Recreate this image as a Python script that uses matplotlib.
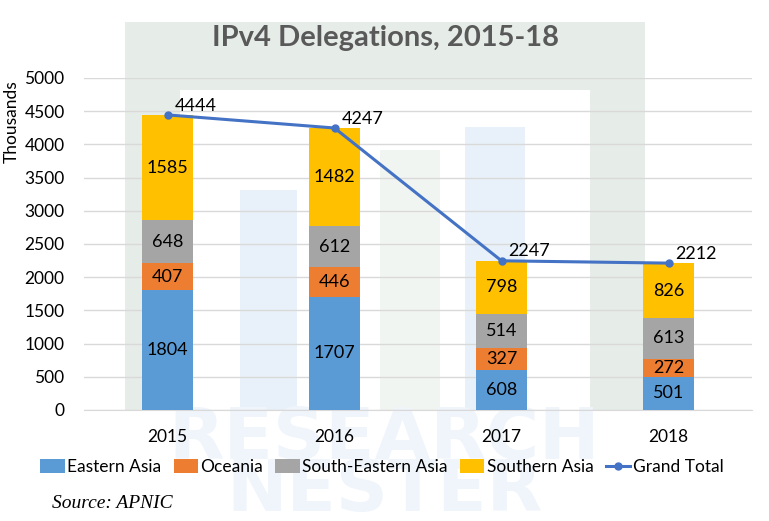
import matplotlib.pyplot as plt
from matplotlib.patches import Rectangle
import numpy as np

# data (thousands)
years = ["2015", "2016", "2017", "2018"]
eastern_asia = [1804, 1707, 608, 501]
oceania = [407, 446, 327, 272]
se_asia = [648, 612, 514, 613]
southern_asia = [1585, 1482, 798, 826]
grand_total = [4444, 4247, 2247, 2212]

series = [
    ("Eastern Asia", eastern_asia, "#5B9BD5"),
    ("Oceania", oceania, "#ED7D31"),
    ("South-Eastern Asia", se_asia, "#A5A5A5"),
    ("Southern Asia", southern_asia, "#FFC000"),
]

plt.rcParams['font.family'] = ['Lato', 'DejaVu Sans']

W, H = 769, 521
fig = plt.figure(figsize=(W / 100, H / 100), dpi=100)


def fr(x0, y0, x1, y1, color):
    # rectangle given in pixel coords (top-left origin)
    fig.patches.append(Rectangle((x0 / W, 1 - y1 / H), (x1 - x0) / W, (y1 - y0) / H,
                                 transform=fig.transFigure, color=color, zorder=-5, lw=0))


# watermark behind the chart
wm_green = "#e6ece7"
wm_blue = "#e8f1f9"
fr(125, 22, 645, 90, wm_green)
fr(125, 90, 180, 410, wm_green)
fr(590, 90, 645, 410, wm_green)
fr(465, 127, 525, 410, wm_blue)
fr(240, 190, 297, 410, wm_blue)
fr(380, 150, 440, 410, "#f1f5f1")
fig.text(0.5, 1 - 440 / H, "RESEARCH", ha="center", va="center", fontsize=52,
         color="#eff5fb", fontweight="bold", family="DejaVu Sans", zorder=-4)
fig.text(0.5, 1 - 492 / H, "NESTER", ha="center", va="center", fontsize=52,
         color="#eff5fb", fontweight="bold", family="DejaVu Sans", zorder=-4)

ax = fig.add_axes([84 / W, 1 - 410 / H, (752 - 84) / W, 332 / H])
ax.set_facecolor("none")
ax.set_zorder(1)

x = np.arange(len(years))
bw = 0.31
bottom = np.zeros(len(years))
handles = []
for name, vals, col in series:
    bars = ax.bar(x, vals, bw, bottom=bottom, color=col, label=name, zorder=3)
    handles.append(bars)
    for xi, b, v in zip(x, bottom, vals):
        ax.text(xi, b + v / 2, str(v), ha="center", va="center", fontsize=13, color="black", zorder=5)
    bottom = bottom + np.array(vals)

line, = ax.plot(x, grand_total, color="#4472C4", lw=2.2, marker="o", ms=5, label="Grand Total", zorder=4)
handles.append(line)
for xi, v in zip(x, grand_total):
    ax.annotate(str(v), (xi, v), xytext=(5, 1), textcoords="offset points",
                fontsize=13, ha="left", va="bottom", zorder=5)

ax.set_xlim(-0.5, 3.5)
ax.set_ylim(0, 5000)
ax.set_yticks(range(0, 5001, 500))
ax.set_xticks(x)
ax.set_xticklabels(years)
ax.tick_params(axis="both", length=0, labelsize=12.5, colors="black")
ax.tick_params(axis="x", pad=14)
ax.tick_params(axis="y", pad=14)
ax.grid(axis="y", color="#d9d9d9", lw=1, zorder=0)
for s in ["top", "right", "left"]:
    ax.spines[s].set_visible(False)
ax.spines["bottom"].set_color("#d9d9d9")

fig.text(12 / W, 1 - 122 / H, "Thousands", rotation=90, ha="center", va="center", fontsize=12.5)
fig.text(385 / W, 1 - 38 / H, "IPv4 Delegations, 2015-18", ha="center", va="center",
         fontsize=21, fontweight="bold", color="#595959")

fig.legend(handles, [h.get_label() for h in handles], loc="center",
           bbox_to_anchor=(382 / W, 1 - 467 / H), ncol=5,
           frameon=False, fontsize=12.5, handlelength=1.4, handleheight=0.8,
           handletextpad=0.15, columnspacing=0.7, borderpad=0)

fig.text(52 / W, 1 - 503 / H, "Source: APNIC", ha="left", va="center", fontsize=14,
         style="italic", family="Liberation Serif")

fig.savefig("out.png", dpi=100)
